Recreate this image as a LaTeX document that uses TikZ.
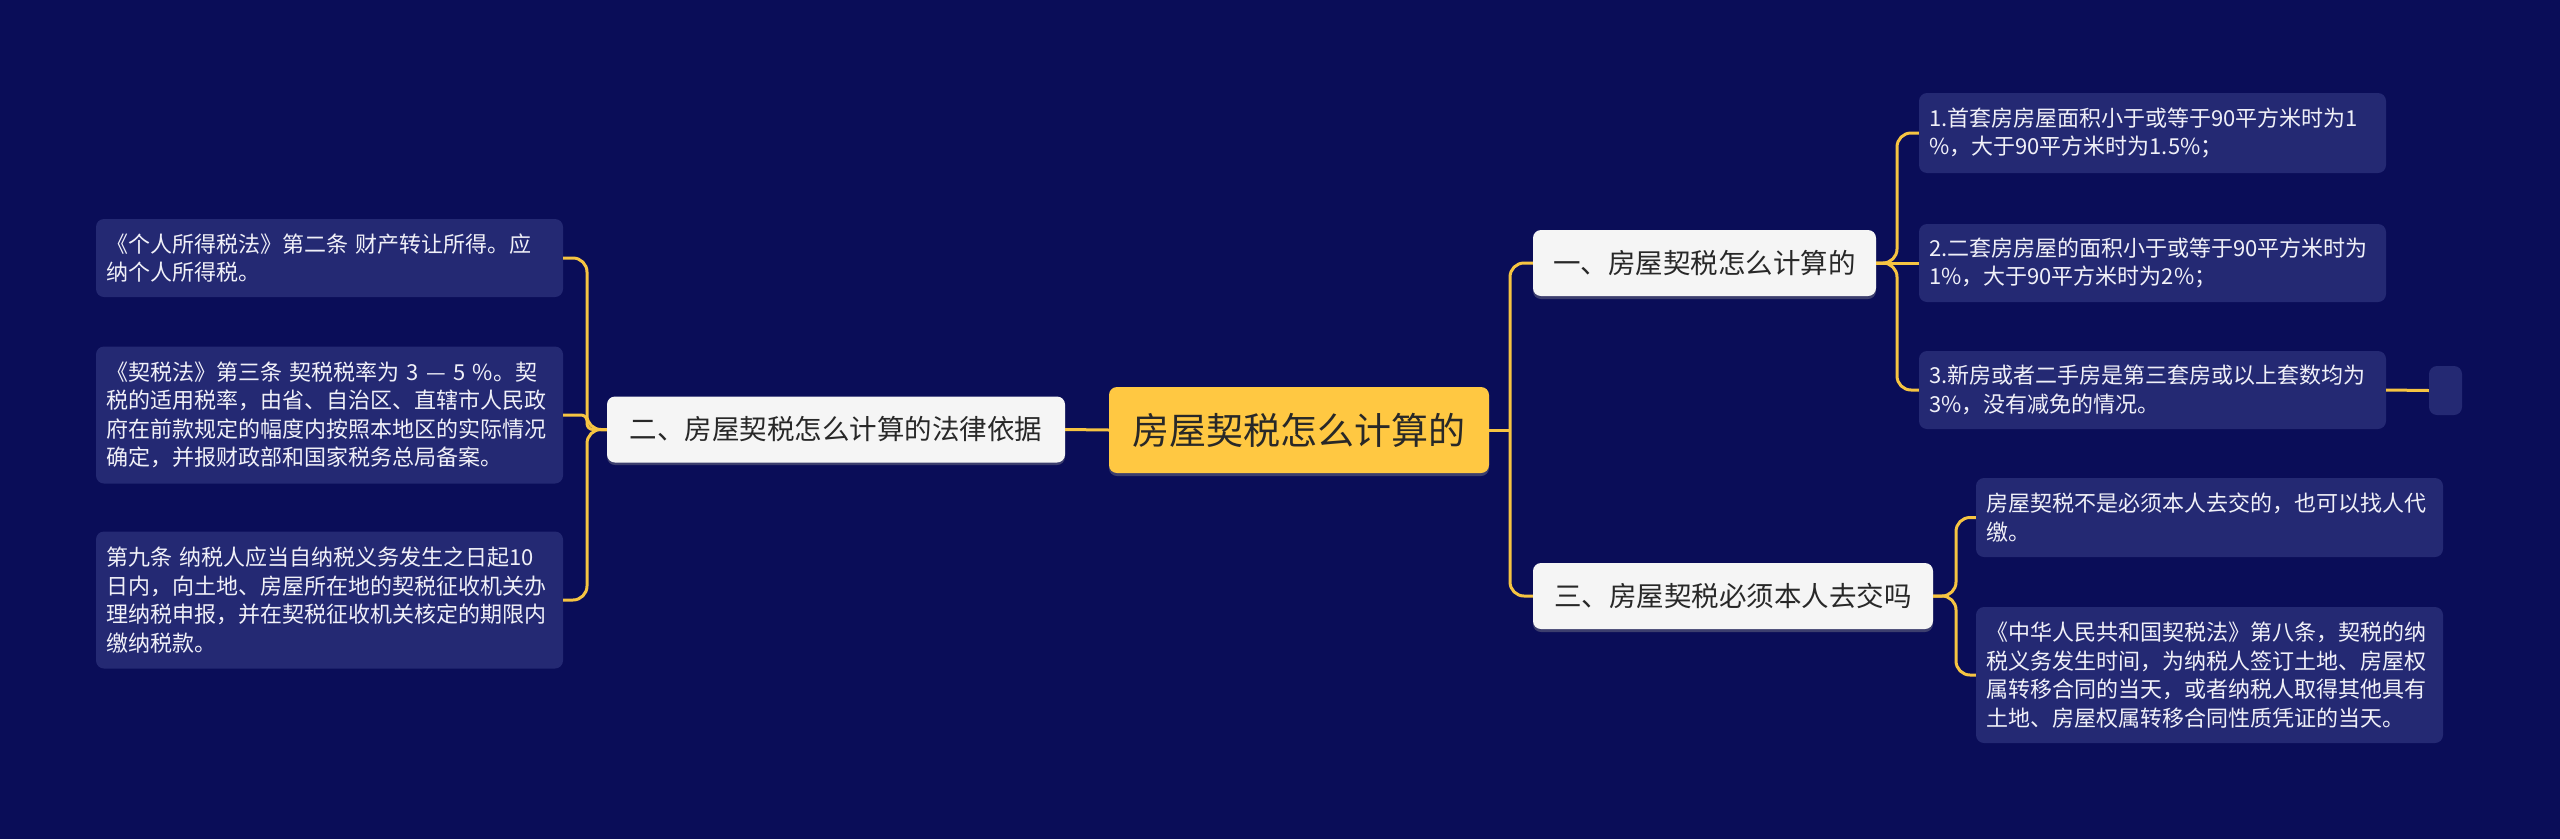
\documentclass[tikz,border=0pt]{standalone}
\usepackage{fontspec}
\setmainfont{Noto Sans CJK SC}
\usetikzlibrary{calc}
\definecolor{bg}{RGB}{10,13,88}
\definecolor{leaffill}{RGB}{36,41,115}
\definecolor{lineyellow}{RGB}{246,196,66}
\definecolor{centerfill}{RGB}{255,200,66}
\definecolor{whitebox}{RGB}{245,245,245}
\definecolor{shadowc}{RGB}{60,62,110}
\definecolor{darktext}{RGB}{40,40,40}
\definecolor{leaftext}{RGB}{240,240,248}
\tikzset{
  leaf/.style={fill=leaffill, rounded corners=8pt, text=leaftext, align=left,
    text width=447pt, inner xsep=10pt, inner ysep=0pt,
    font=\fontsize{22}{28.5}\selectfont},
  branch/.style={fill=whitebox, rounded corners=8pt, text=darktext, align=center,
    inner sep=0pt, minimum height=66pt, font=\fontsize{27.5}{32}\selectfont},
  root/.style={fill=centerfill, rounded corners=8pt, text=darktext, align=center,
    inner sep=0pt, minimum width=380pt, minimum height=86pt, font=\fontsize{37}{42}\selectfont},
  conn/.style={draw=lineyellow, line width=3pt, rounded corners=14pt},
  shade/.style={fill=shadowc, rounded corners=8pt},
}
\begin{document}
\begin{tikzpicture}[x=1pt,y=-1pt]
\path[fill=bg, use as bounding box] (0,0) rectangle (2560,839);

% soft shadows under the white and root boxes
\path[shade] (1109,391) rectangle (1489,476);
\path[shade] (607,400) rectangle (1065,465);
\path[shade] (1533,233) rectangle (1876,299);
\path[shade] (1533,566) rectangle (1933,632);

% root and branches
\node[root] (c) at (1299,430) {房屋契税怎么计算的};
\node[branch, minimum width=458pt] (b2) at (836,429.5) {二、房屋契税怎么计算的法律依据};
\node[branch, minimum width=343pt] (b1) at (1704.5,263) {一、房屋契税怎么计算的};
\node[branch, minimum width=400pt] (b3) at (1733,596) {三、房屋契税必须本人去交吗};

% left leaves
\node[leaf, minimum height=78pt] (l1) at (329.5,258) {《个人所得税法》第二条 财产转让所得。应\\纳个人所得税。};
\node[leaf, minimum height=137pt] (l2) at (329.5,415) {《契税法》第三条 契税税率为 3 — 5 \%。契\\税的适用税率，由省、自治区、直辖市人民政\\府在前款规定的幅度内按照本地区的实际情况\\确定，并报财政部和国家税务总局备案。};
\node[leaf, minimum height=137pt] (l3) at (329.5,600) {第九条 纳税人应当自纳税义务发生之日起10\\日内，向土地、房屋所在地的契税征收机关办\\理纳税申报，并在契税征收机关核定的期限内\\缴纳税款。};

% right leaves of branch 1
\node[leaf, minimum height=80pt] (r1) at (2152.5,133) {1.首套房房屋面积小于或等于90平方米时为1\\\%，大于90平方米时为1.5\%；};
\node[leaf, minimum height=78pt] (r2) at (2152.5,263) {2.二套房房屋的面积小于或等于90平方米时为\\1\%，大于90平方米时为2\%；};
\node[leaf, minimum height=78pt] (r3) at (2152.5,390) {3.新房或者二手房是第三套房或以上套数均为\\3\%，没有减免的情况。};
\node[fill=leaffill, rounded corners=8pt, inner sep=0pt, minimum width=33pt, minimum height=49pt] (e) at (2445.5,390.5) {};

% right leaves of branch 3
\node[leaf, minimum height=79pt] (s1) at (2209.5,517.5) {房屋契税不是必须本人去交的，也可以找人代\\缴。};
\node[leaf, minimum height=136pt] (s2) at (2209.5,675) {《中华人民共和国契税法》第八条，契税的纳\\税义务发生时间，为纳税人签订土地、房屋权\\属转移合同的当天，或者纳税人取得其他具有\\土地、房屋权属转移合同性质凭证的当天。};

% trunk coordinates
\coordinate (tr) at (1510,430);
\coordinate (tl) at (587,430);
\coordinate (t1) at (1897,263);
\coordinate (t3) at (1956,596);

% connectors
\draw[conn] (c.west) -- (b2.east);
\draw[conn] (c.east) -- (tr);
\draw[conn] (b1.west) -- (tr |- b1.west) -- (tr |- b3.west) -- (b3.west);

\draw[conn] (b2.west) -- (tl |- b2.west) -- (tl |- l1.east) -- (l1.east);
\draw[conn, rounded corners=6pt] (b2.west) -- (tl |- b2.west) -- (tl |- l2.east) -- (l2.east);
\draw[conn] (b2.west) -- (tl |- b2.west) -- (tl |- l3.east) -- (l3.east);

\draw[conn] (b1.east) -- (t1 |- b1.east) -- (t1 |- r1.west) -- (r1.west);
\draw[conn] (b1.east) -- (r2.west);
\draw[conn] (b1.east) -- (t1 |- b1.east) -- (t1 |- r3.west) -- (r3.west);
\draw[conn] (r3.east) -- (e.west);

\draw[conn] (b3.east) -- (t3 |- b3.east) -- (t3 |- s1.west) -- (s1.west);
\draw[conn] (b3.east) -- (t3 |- b3.east) -- (t3 |- s2.west) -- (s2.west);
\end{tikzpicture}
\end{document}
